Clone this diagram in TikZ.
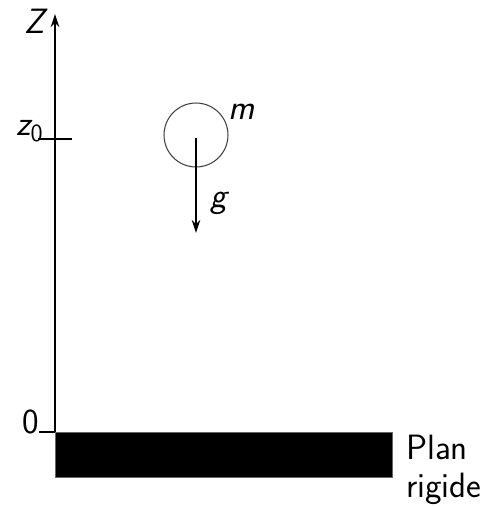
\documentclass[tikz,border=0pt]{standalone}
\usepackage{amsmath}
\usetikzlibrary{arrows.meta, positioning}

\newcommand{\sfit}[1]{\text{\sffamily\itshape #1}}

\begin{document}
\begin{tikzpicture}[
  x=0.02cm, y=-0.02cm,
  every node/.style={font=\sffamily\fontsize{20}{22}\selectfont},
  axisline/.style={line width=0.8pt, draw=black},
  arrow/.style={-{Stealth[length=2.6mm, width=1.7mm]}, line width=0.8pt},
  mass/.style={circle, draw=black!75, line width=0.6pt, minimum size=1.28cm, inner sep=0pt},
  ground/.style={fill=black, draw=black!60, minimum width=6.74cm, minimum height=0.9cm, inner sep=0pt}
]
\useasboundingbox (0,0) rectangle (483,507);

% axis
\coordinate (O) at (55,432);
\coordinate (top) at (55,14);
\draw[arrow] (O) -- (top);
\node (zlab) at (35,21) {$\sfit{Z}$};

% ticks
\coordinate (z0a) at (38,139);
\coordinate (z0b) at (72,139);
\draw[axisline] (z0a) -- (z0b);
\node (z0lab) at (30,131) {$\sfit{z}_{\text{\sffamily 0}}$};
\coordinate (zeroa) at (39,432);
\draw[axisline] (zeroa) -- (O);
\node (zerolab) at (31,422) {0};

% falling mass
\node[mass] (m) at (196,135) {};
\node (mlab) at (242,112) {$\sfit{m}$};
\coordinate (gend) at (196,233);
\draw[arrow] ([yshift=-0.06cm]m.center) -- (gend);
\node (glab) at (219,203) {$\sfit{g}$};

% rigid plane
\node[ground, anchor=north west] (plan) at (O) {};
\node[align=left, anchor=west] (planlab) at (400,470) {Plan\\rigide};
\end{tikzpicture}
\end{document}
